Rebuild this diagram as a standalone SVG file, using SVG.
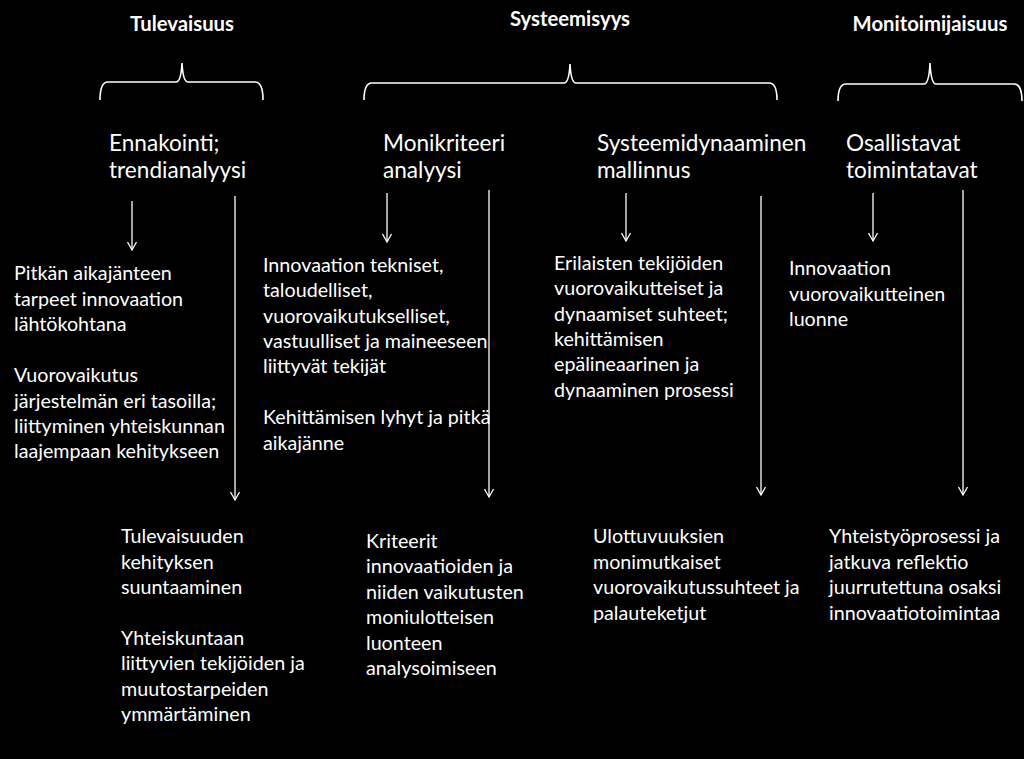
<svg xmlns="http://www.w3.org/2000/svg" width="1024" height="759" viewBox="0 0 1024 759">
<defs>
<style>
text{fill:#fff;font-family:Lato,"Liberation Sans",sans-serif}
.t{font-weight:bold;font-size:20.3px;text-anchor:middle}
.h{font-size:22.6px}
.b{font-size:19.7px}
.br{fill:none;stroke:#fff;stroke-width:1.6}
.ar{stroke:#fff;stroke-width:1.3}
</style>
<marker id="ah" markerUnits="userSpaceOnUse" markerWidth="12" markerHeight="12" viewBox="-10 -6 12 12" refX="0" refY="0" orient="auto" overflow="visible">
<path d="M-8,-4.5 L0,0 L-8,4.5" fill="none" stroke="#fff" stroke-width="1.3"/>
</marker>
</defs>
<rect width="1024" height="759" fill="#000"/>

<g id="title-tulevaisuus">
<text class="t" x="182" y="31">Tulevaisuus</text>
<path class="br" d="M100,100 Q100,82 108,82 L176,82 Q181,82 182,63 Q183,82 188,82 L255,82 Q263,82 263,100"/>
</g>
<g id="title-systeemisyys">
<text class="t" x="570" y="26">Systeemisyys</text>
<path class="br" d="M364,100 Q364,83 372,83 L564,83 Q569,83 570,64 Q571,83 576,83 L769,83 Q777,83 777,100"/>
</g>
<g id="title-monitoimijaisuus">
<text class="t" x="930" y="31">Monitoimijaisuus</text>
<path class="br" d="M838,101 Q838,84 846,84 L924,84 Q929,84 930,63 Q931,84 936,84 L1014,84 Q1022,84 1022,101"/>
</g>

<g id="node-ennakointi">
<text class="h" x="109" y="151">Ennakointi;</text>
<text class="h" x="109" y="178">trendianalyysi</text>
</g>
<g id="node-monikriteeri">
<text class="h" x="383" y="151">Monikriteeri</text>
<text class="h" x="383" y="178">analyysi</text>
</g>
<g id="node-systeemidynaaminen">
<text class="h" x="597" y="151">Systeemidynaaminen</text>
<text class="h" x="597" y="178">mallinnus</text>
</g>
<g id="node-osallistavat">
<text class="h" x="846" y="151">Osallistavat</text>
<text class="h" x="846" y="178">toimintatavat</text>
</g>

<g id="node-c1-top" class="b">
<text x="14" y="280">Pitkän aikajänteen</text>
<text x="14" y="305.5">tarpeet innovaation</text>
<text x="14" y="331">lähtökohtana</text>
<text x="14" y="382">Vuorovaikutus</text>
<text x="14" y="407.5">järjestelmän eri tasoilla;</text>
<text x="14" y="433">liittyminen yhteiskunnan</text>
<text x="14" y="458">laajempaan kehitykseen</text>
</g>
<g id="node-c2-top" class="b">
<text x="263" y="272">Innovaation tekniset,</text>
<text x="263" y="297">taloudelliset,</text>
<text x="263" y="322.5">vuorovaikutukselliset,</text>
<text x="263" y="348">vastuulliset ja maineeseen</text>
<text x="263" y="373">liittyvät tekijät</text>
<text x="263" y="424">Kehittämisen lyhyt ja pitkä</text>
<text x="263" y="449.5">aikajänne</text>
</g>
<g id="node-c3-top" class="b">
<text x="554" y="270">Erilaisten tekijöiden</text>
<text x="554" y="295">vuorovaikutteiset ja</text>
<text x="554" y="320.5">dynaamiset suhteet;</text>
<text x="554" y="346">kehittämisen</text>
<text x="554" y="371">epälineaarinen ja</text>
<text x="554" y="396.5">dynaaminen prosessi</text>
</g>
<g id="node-c4-top" class="b">
<text x="789" y="275">Innovaation</text>
<text x="789" y="300.5">vuorovaikutteinen</text>
<text x="789" y="326">luonne</text>
</g>

<g id="node-c1-bottom" class="b">
<text x="121" y="543">Tulevaisuuden</text>
<text x="121" y="568.5">kehityksen</text>
<text x="121" y="594">suuntaaminen</text>
<text x="121" y="644.5">Yhteiskuntaan</text>
<text x="121" y="670">liittyvien tekijöiden ja</text>
<text x="121" y="695.5">muutostarpeiden</text>
<text x="121" y="721">ymmärtäminen</text>
</g>
<g id="node-c2-bottom" class="b">
<text x="366" y="547.5">Kriteerit</text>
<text x="366" y="573">innovaatioiden ja</text>
<text x="366" y="598.5">niiden vaikutusten</text>
<text x="366" y="624">moniulotteisen</text>
<text x="366" y="649.5">luonteen</text>
<text x="366" y="675">analysoimiseen</text>
</g>
<g id="node-c3-bottom" class="b">
<text x="593" y="543">Ulottuvuuksien</text>
<text x="593" y="568.5">monimutkaiset</text>
<text x="593" y="594">vuorovaikutussuhteet ja</text>
<text x="593" y="619.5">palauteketjut</text>
</g>
<g id="node-c4-bottom" class="b">
<text x="829" y="543">Yhteistyöprosessi ja</text>
<text x="829" y="568.5">jatkuva reflektio</text>
<text x="829" y="594">juurrutettuna osaksi</text>
<text x="829" y="619.5">innovaatiotoimintaa</text>
</g>

<g id="connectors" class="ar">
<line x1="132" y1="201" x2="132" y2="250" marker-end="url(#ah)"/>
<line x1="235" y1="196" x2="235" y2="500" marker-end="url(#ah)"/>
<line x1="387" y1="193" x2="387" y2="242" marker-end="url(#ah)"/>
<line x1="489" y1="190" x2="489" y2="497" marker-end="url(#ah)"/>
<line x1="626" y1="193" x2="626" y2="241" marker-end="url(#ah)"/>
<line x1="761" y1="196" x2="761" y2="495" marker-end="url(#ah)"/>
<line x1="873" y1="193" x2="873" y2="241" marker-end="url(#ah)"/>
<line x1="963" y1="190" x2="963" y2="495" marker-end="url(#ah)"/>
</g>
</svg>
